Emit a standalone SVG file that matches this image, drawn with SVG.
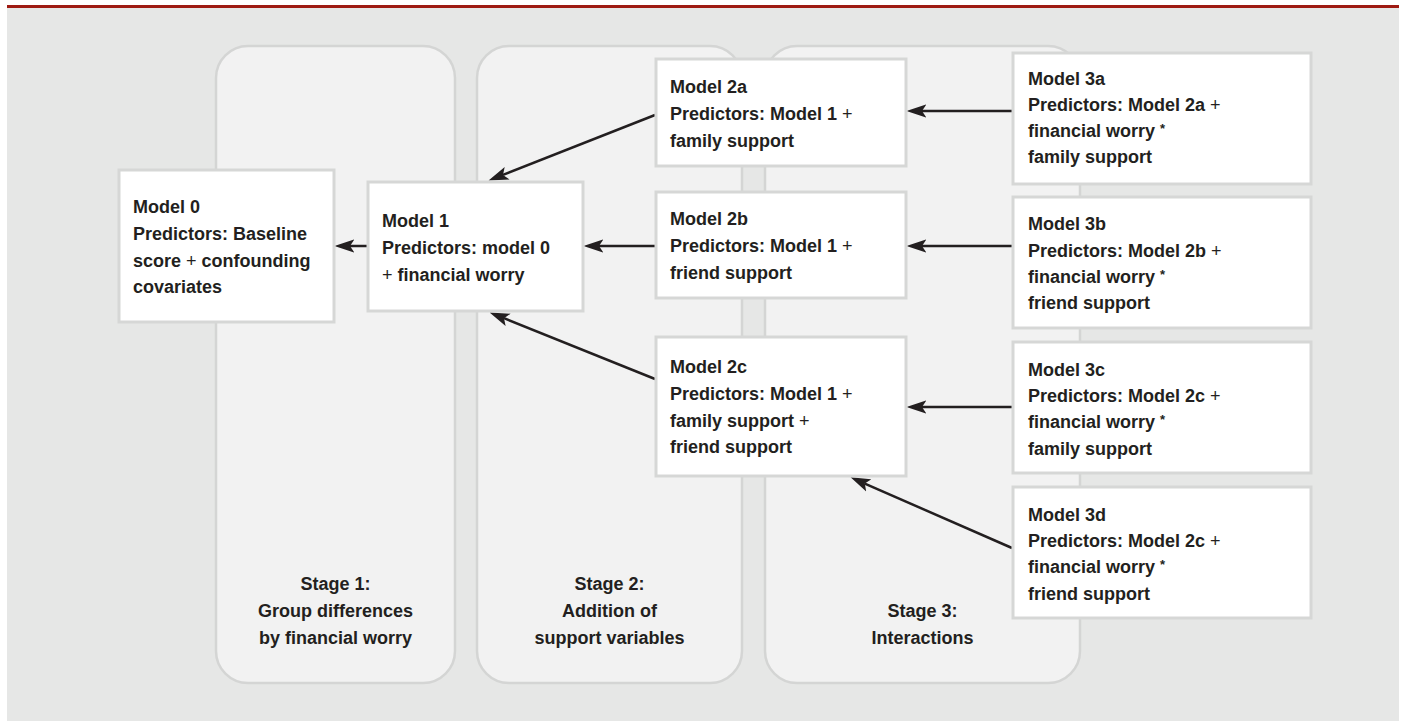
<svg xmlns="http://www.w3.org/2000/svg" width="1403" height="721" viewBox="0 0 1403 721">
<style>
.bg{fill:#e6e7e6}
.panel{fill:#f2f2f2;stroke:#d4d5d4;stroke-width:2.5}
.box{fill:#ffffff;stroke:#d6d7d6;stroke-width:3}
text{font-family:"Liberation Sans",Arial,sans-serif;font-weight:700;font-size:18px;fill:#231f20}
.st{text-anchor:middle}
.pl{font-weight:400}
.ast{font-size:13px}
.conn line{stroke:#231f20;stroke-width:2.5;fill:none}
</style>
<defs>
<marker id="ah" markerUnits="userSpaceOnUse" markerWidth="20" markerHeight="14" refX="4" refY="6" orient="auto" viewBox="0 0 18 12">
<path d="M0,0 L18,6 L0,12 L4,6 Z" fill="#231f20"/>
</marker>
</defs>
<rect x="0" y="0" width="1403" height="721" fill="#ffffff"/>
<rect class="bg" x="7" y="7" width="1392" height="714"/>
<rect x="7" y="5" width="1392" height="3" fill="#9e1a12"/>

<g id="stage1">
<rect class="panel" x="216" y="46" width="239" height="637" rx="32" ry="32"/>
<text class="st" x="335.5" y="590">Stage 1:</text>
<text class="st" x="335.5" y="617">Group differences</text>
<text class="st" x="335.5" y="644">by financial worry</text>
</g>
<g id="stage2">
<rect class="panel" x="477" y="46" width="265" height="637" rx="32" ry="32"/>
<text class="st" x="609.5" y="590">Stage 2:</text>
<text class="st" x="609.5" y="617">Addition of</text>
<text class="st" x="609.5" y="644">support variables</text>
</g>
<g id="stage3">
<rect class="panel" x="765" y="46" width="315" height="637" rx="32" ry="32"/>
<text class="st" x="922.5" y="617">Stage 3:</text>
<text class="st" x="922.5" y="644">Interactions</text>
</g>

<g class="conn" id="connectors">
<line x1="368" y1="246" x2="350" y2="246" marker-end="url(#ah)"/>
<line x1="656" y1="246" x2="599" y2="246" marker-end="url(#ah)"/>
<line x1="655" y1="115" x2="503" y2="174.9" marker-end="url(#ah)"/>
<line x1="655" y1="379" x2="504" y2="318.2" marker-end="url(#ah)"/>
<line x1="1013" y1="111" x2="922" y2="111" marker-end="url(#ah)"/>
<line x1="1013" y1="246" x2="922" y2="246" marker-end="url(#ah)"/>
<line x1="1013" y1="407" x2="922" y2="407" marker-end="url(#ah)"/>
<line x1="1012" y1="548" x2="864.8" y2="483.6" marker-end="url(#ah)"/>
</g>

<g id="model0">
<rect class="box" x="119" y="170" width="215" height="152"/>
<text x="133" y="213">Model 0</text>
<text x="133" y="240">Predictors: Baseline</text>
<text x="133" y="267">score <tspan class="pl">+</tspan> confounding</text>
<text x="133" y="293">covariates</text>
</g>
<g id="model1">
<rect class="box" x="368" y="182" width="215" height="129"/>
<text x="382" y="227">Model 1</text>
<text x="382" y="254">Predictors: model 0</text>
<text x="382" y="281"><tspan class="pl">+</tspan> financial worry</text>
</g>
<g id="model2a">
<rect class="box" x="656" y="59" width="250" height="107"/>
<text x="670" y="93">Model 2a</text>
<text x="670" y="120">Predictors: Model 1 <tspan class="pl">+</tspan></text>
<text x="670" y="147">family support</text>
</g>
<g id="model2b">
<rect class="box" x="656" y="192" width="250" height="106"/>
<text x="670" y="225">Model 2b</text>
<text x="670" y="252">Predictors: Model 1 <tspan class="pl">+</tspan></text>
<text x="670" y="279">friend support</text>
</g>
<g id="model2c">
<rect class="box" x="656" y="337" width="250" height="139"/>
<text x="670" y="373">Model 2c</text>
<text x="670" y="400">Predictors: Model 1 <tspan class="pl">+</tspan></text>
<text x="670" y="427">family support <tspan class="pl">+</tspan></text>
<text x="670" y="453">friend support</text>
</g>
<g id="model3a">
<rect class="box" x="1013" y="53" width="298" height="131"/>
<text x="1028" y="85">Model 3a</text>
<text x="1028" y="111">Predictors: Model 2a <tspan class="pl">+</tspan></text>
<text x="1028" y="137">financial worry <tspan class="ast" dy="-4">*</tspan></text>
<text x="1028" y="163">family support</text>
</g>
<g id="model3b">
<rect class="box" x="1013" y="197" width="298" height="131"/>
<text x="1028" y="230">Model 3b</text>
<text x="1028" y="257">Predictors: Model 2b <tspan class="pl">+</tspan></text>
<text x="1028" y="283">financial worry <tspan class="ast" dy="-4">*</tspan></text>
<text x="1028" y="309">friend support</text>
</g>
<g id="model3c">
<rect class="box" x="1013" y="342" width="298" height="131"/>
<text x="1028" y="376">Model 3c</text>
<text x="1028" y="402">Predictors: Model 2c <tspan class="pl">+</tspan></text>
<text x="1028" y="428">financial worry <tspan class="ast" dy="-4">*</tspan></text>
<text x="1028" y="455">family support</text>
</g>
<g id="model3d">
<rect class="box" x="1013" y="487" width="298" height="131"/>
<text x="1028" y="521">Model 3d</text>
<text x="1028" y="547">Predictors: Model 2c <tspan class="pl">+</tspan></text>
<text x="1028" y="573">financial worry <tspan class="ast" dy="-4">*</tspan></text>
<text x="1028" y="600">friend support</text>
</g>
</svg>
